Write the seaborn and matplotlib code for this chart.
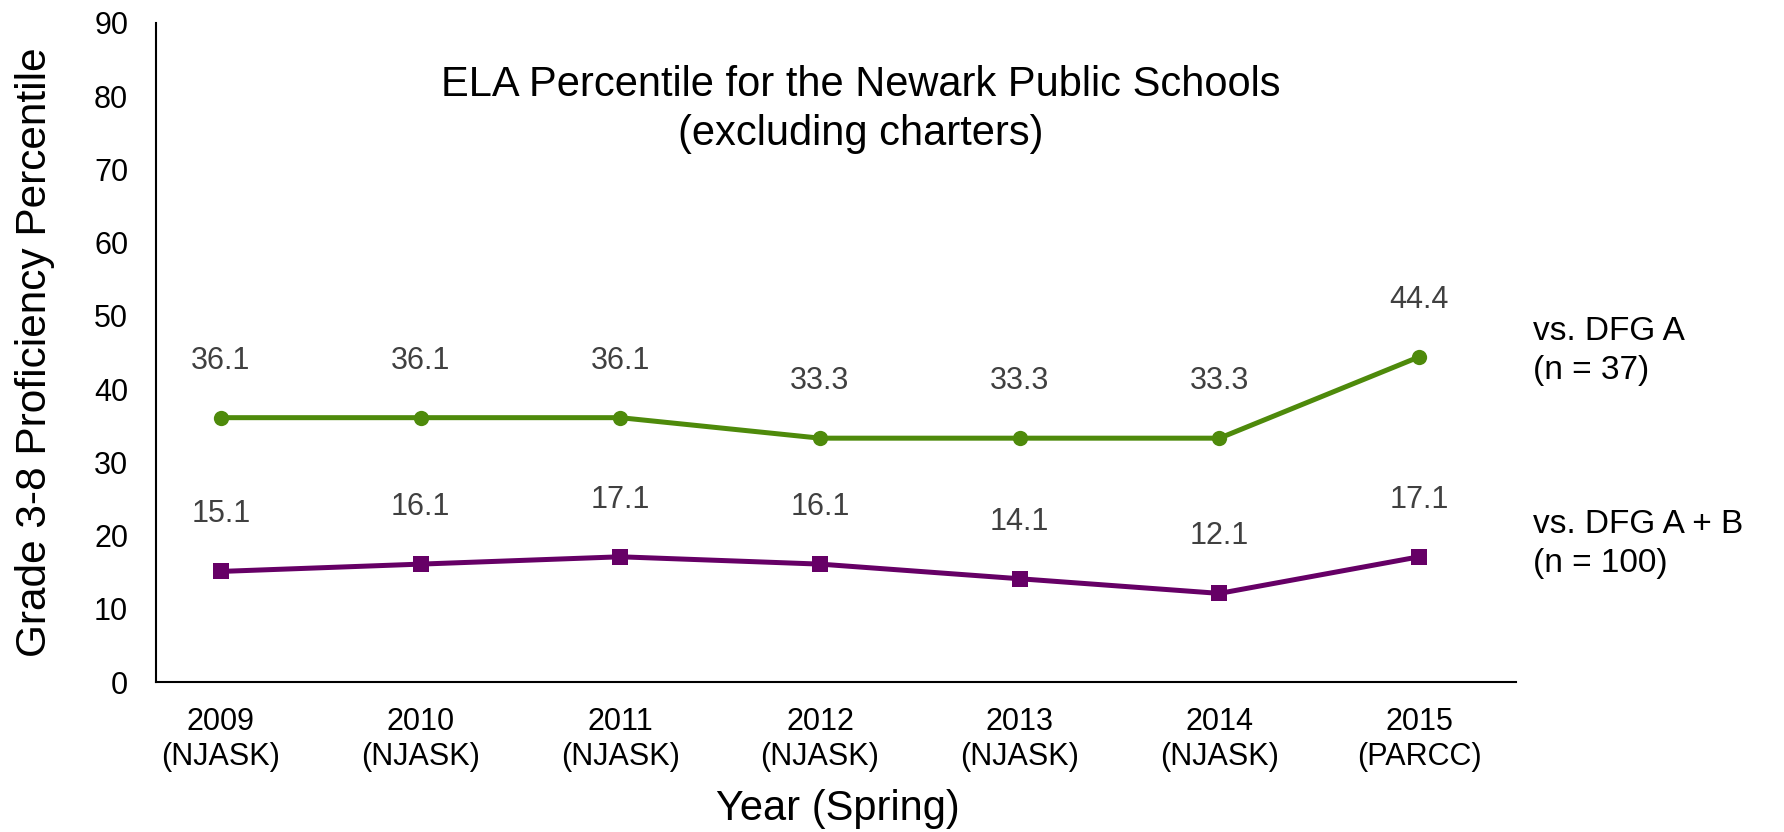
import pandas as pd
import matplotlib
matplotlib.use("Agg")
import matplotlib.pyplot as plt
import seaborn as sns

years = ["2009\n(NJASK)", "2010\n(NJASK)", "2011\n(NJASK)", "2012\n(NJASK)",
         "2013\n(NJASK)", "2014\n(NJASK)", "2015\n(PARCC)"]
dfg_a = [36.1, 36.1, 36.1, 33.3, 33.3, 33.3, 44.4]
dfg_ab = [15.1, 16.1, 17.1, 16.1, 14.1, 12.1, 17.1]
series_names = ["vs. DFG A\n(n = 37)", "vs. DFG A + B\n(n = 100)"]

sns.set_style("white")
plt.rcParams['font.family'] = ['Liberation Sans', 'DejaVu Sans']
plt.rcParams['text.color'] = 'black'
plt.rcParams['axes.labelcolor'] = 'black'
plt.rcParams['xtick.color'] = 'black'
plt.rcParams['ytick.color'] = 'black'

df = pd.DataFrame({"pos": list(range(len(years))), "a": dfg_a, "ab": dfg_ab})

fig = plt.figure(figsize=(17.84, 8.32), dpi=100)
ax = fig.add_axes([156/1784, 150/832, (1516-156)/1784, (682-23)/832])

green = "#4E8A0B"
purple = "#660066"
sns.lineplot(data=df, x="pos", y="a", ax=ax, color=green, lw=3.6,
             marker="o", markersize=11, markeredgewidth=0)
sns.lineplot(data=df, x="pos", y="ab", ax=ax, color=purple, lw=3.6,
             marker="s", markersize=11, markeredgewidth=0)

for col in ["a", "ab"]:
    for x, y in zip(df["pos"], df[col]):
        ax.annotate(f"{y:.1f}", (x, y), xytext=(0, 41), textcoords="offset points",
                    ha="center", va="center", fontsize=22, color="#404040")

# series labels at right
ax.text(1533, 832-351, series_names[0], transform=None, fontsize=24, va="center", ha="left",
        linespacing=1.3)
ax.text(1533, 832-544, series_names[1], transform=None, fontsize=24, va="center", ha="left",
        linespacing=1.3)

ax.set_xlim(-0.325, 6.485)
ax.set_ylim(0, 90)
ax.set_yticks(range(0, 91, 10))
ax.set_xticks(df["pos"])
ax.set_xticklabels(years, fontsize=22, linespacing=1.2)
ax.tick_params(axis="y", labelsize=22, length=0, pad=20)
ax.tick_params(axis="x", length=0, pad=18)

for s in ["top", "right"]:
    ax.spines[s].set_visible(False)
for s in ["left", "bottom"]:
    ax.spines[s].set_color("black")
    ax.spines[s].set_linewidth(1.5)

ax.set_xlabel("")
fig.text(838/1784, 23/832, "Year (Spring)", fontsize=30, ha="center", va="center")
ax.set_ylabel("Grade 3-8 Proficiency Percentile", fontsize=30.5, labelpad=28)
ax.text(0.518, 0.906, "ELA Percentile for the Newark Public Schools",
        transform=ax.transAxes, ha="center", va="center", fontsize=30)
ax.text(0.518, 0.832, "(excluding charters)",
        transform=ax.transAxes, ha="center", va="center", fontsize=30)

fig.savefig("out.png", dpi=100)
